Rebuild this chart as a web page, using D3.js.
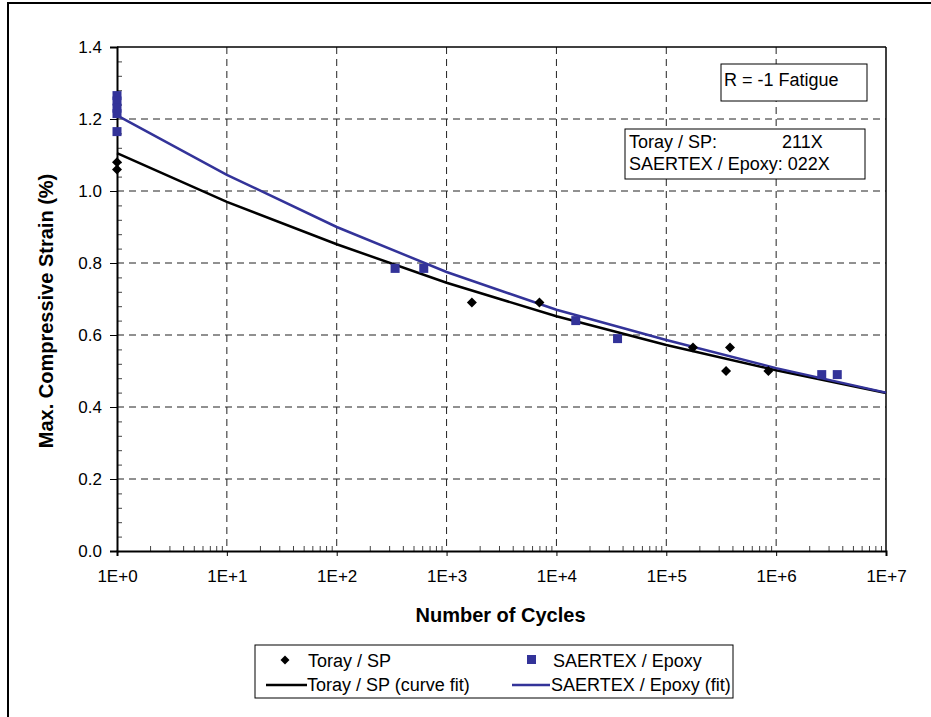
<!DOCTYPE html>
<html>
<head>
<meta charset="utf-8">
<script src="https://cdn.jsdelivr.net/npm/d3@7"></script>
<style>
  body { margin: 0; background: #fff; }
  svg text { font-family: "Liberation Sans", Arial, sans-serif; }
</style>
</head>
<body>
<div id="chart"></div>
<script>
// data
const torayN = [1, 1, 1700, 7000, 175000, 350000, 380000, 850000];
const torayStrain = [1.08, 1.06, 0.69, 0.69, 0.565, 0.50, 0.565, 0.50];

const saertexN = [1, 1, 1, 1, 1, 340, 620, 15000, 36000, 2600000, 3600000];
const saertexStrain = [1.265, 1.25, 1.23, 1.215, 1.165, 0.785, 0.785, 0.64, 0.59, 0.49, 0.49];

const fitN = [1, 1e1, 1e2, 1e3, 1e4, 1e5, 1e6, 1e7];
const torayFit = [1.105, 0.970, 0.852, 0.745, 0.652, 0.572, 0.502, 0.439];
const saertexFit = [1.210, 1.045, 0.900, 0.775, 0.670, 0.586, 0.508, 0.440];

const xTicks = [1, 1e1, 1e2, 1e3, 1e4, 1e5, 1e6, 1e7];
const yTicks = [0, 0.2, 0.4, 0.6, 0.8, 1.0, 1.2, 1.4];

const width = 931;
const height = 717;
const margin = { top: 47, bottom: 166, left: 117, right: 45 };
const blue = "#333399";

const svg = d3.select("div#chart")
  .append("svg")
  .attr("width", width)
  .attr("height", height);

// outer frame (left and top only)
svg.append("line").attr("x1", 8).attr("x2", 8).attr("y1", 2).attr("y2", height)
  .attr("stroke", "#000").attr("stroke-width", 2);
svg.append("line").attr("x1", 7).attr("x2", width).attr("y1", 3).attr("y2", 3)
  .attr("stroke", "#000").attr("stroke-width", 2);

const innerW = width - margin.left - margin.right;
const innerH = height - margin.top - margin.bottom;

const x = d3.scaleLog().domain([1, 1e7]).range([0, innerW]);
const y = d3.scaleLinear().domain([0, 1.4]).range([innerH, 0]);

const g = svg.append("g")
  .attr("transform", `translate(${margin.left},${margin.top})`);

// grid
g.append("g").selectAll("line.hgrid")
  .data(yTicks.filter(d => d > 0 && d < 1.4))
  .join("line")
  .attr("x1", 0).attr("x2", innerW)
  .attr("y1", d => y(d)).attr("y2", d => y(d))
  .attr("stroke", "#222").attr("stroke-dasharray", "7,5");

g.append("g").selectAll("line.vgrid")
  .data(xTicks.filter(d => d > 1 && d < 1e7))
  .join("line")
  .attr("x1", d => x(d)).attr("x2", d => x(d))
  .attr("y1", 0).attr("y2", innerH)
  .attr("stroke", "#222").attr("stroke-dasharray", "7,5");

// top and right frame
g.append("line").attr("x1", 0).attr("x2", innerW).attr("y1", 0).attr("y2", 0)
  .attr("stroke", "#000").attr("stroke-width", 1.5);
g.append("line").attr("x1", innerW).attr("x2", innerW).attr("y1", 0).attr("y2", innerH)
  .attr("stroke", "#000").attr("stroke-width", 1.5);

// minor ticks
const xMinor = [];
for (let e = 0; e < 7; e++) for (let k = 2; k <= 9; k++) xMinor.push(k * Math.pow(10, e));
const yMinor = d3.range(0, 35).map(i => i * 0.04).filter((d, i) => i % 5 !== 0);

g.append("g")
  .attr("transform", `translate(0,${innerH})`)
  .call(d3.axisTop(x).tickValues(xMinor).tickSize(5).tickFormat(""))
  .call(s => s.select(".domain").remove())
  .call(s => s.selectAll("line").attr("stroke", "#444"));

g.append("g")
  .call(d3.axisRight(y).tickValues(yMinor).tickSize(5).tickFormat(""))
  .call(s => s.select(".domain").remove())
  .call(s => s.selectAll("line").attr("stroke", "#444"));

// axes
const xAxisGroup = g.append("g")
  .attr("transform", `translate(0,${innerH})`)
  .call(d3.axisBottom(x).tickValues(xTicks).tickSize(5).tickPadding(14)
    .tickFormat(d => "1E+" + Math.round(Math.log10(d))));
xAxisGroup.select(".domain").attr("stroke-width", 2);
xAxisGroup.selectAll("text").attr("font-size", 17).attr("fill", "#000");

const yAxisGroup = g.append("g")
  .call(d3.axisLeft(y).tickValues(yTicks).tickSize(7).tickPadding(8).tickFormat(d3.format(".1f")));
yAxisGroup.select(".domain").attr("stroke-width", 2);
yAxisGroup.selectAll("text").attr("font-size", 17).attr("fill", "#000");

// fit lines
const line = d3.line().x(d => x(d[0])).y(d => y(d[1]));
g.append("path")
  .datum(fitN.map((n, i) => [n, torayFit[i]]))
  .attr("d", line).attr("fill", "none").attr("stroke", "#000").attr("stroke-width", 2.5);
g.append("path")
  .datum(fitN.map((n, i) => [n, saertexFit[i]]))
  .attr("d", line).attr("fill", "none").attr("stroke", blue).attr("stroke-width", 2.5);

// points
const diamond = d3.symbol().type(d3.symbolSquare).size(50);
g.append("g").selectAll("path")
  .data(torayN.map((n, i) => [n, torayStrain[i]]))
  .join("path")
  .attr("d", diamond)
  .attr("transform", d => `translate(${x(d[0])},${y(d[1])}) rotate(45)`)
  .attr("fill", "#000");

g.append("g").selectAll("rect")
  .data(saertexN.map((n, i) => [n, saertexStrain[i]]))
  .join("rect")
  .attr("x", d => x(d[0]) - 4.5).attr("y", d => y(d[1]) - 4.5)
  .attr("width", 9).attr("height", 9)
  .attr("fill", blue);

// axis titles
svg.append("text")
  .attr("x", margin.left + innerW / 2 - 1).attr("y", 622)
  .attr("text-anchor", "middle").attr("font-size", 20).attr("font-weight", "bold")
  .text("Number of Cycles");
svg.append("text")
  .attr("transform", `translate(53,${margin.top + innerH / 2 + 12}) rotate(-90)`)
  .attr("text-anchor", "middle").attr("font-size", 20).attr("font-weight", "bold")
  .text("Max. Compressive Strain (%)");

// annotation boxes
svg.append("rect").attr("x", 721).attr("y", 64).attr("width", 146).attr("height", 37)
  .attr("fill", "#fff").attr("stroke", "#000");
svg.append("text").attr("x", 724).attr("y", 86).attr("font-size", 18).text("R = -1 Fatigue");

svg.append("rect").attr("x", 625).attr("y", 129).attr("width", 240).attr("height", 50)
  .attr("fill", "#fff").attr("stroke", "#000");
svg.append("text").attr("x", 629).attr("y", 148).attr("font-size", 18).text("Toray / SP:");
svg.append("text").attr("x", 782).attr("y", 148).attr("font-size", 18).text("211X");
svg.append("text").attr("x", 629).attr("y", 170).attr("font-size", 18).text("SAERTEX / Epoxy: 022X");

// legend
const legend = svg.append("g");
legend.append("rect").attr("x", 255).attr("y", 645).attr("width", 478).attr("height", 53)
  .attr("fill", "#fff").attr("stroke", "#000");
legend.append("path").attr("d", d3.symbol().type(d3.symbolSquare).size(40))
  .attr("transform", "translate(285,660) rotate(45)").attr("fill", "#000");
legend.append("text").attr("x", 308).attr("y", 667).attr("font-size", 18).text("Toray / SP");
legend.append("rect").attr("x", 527).attr("y", 655).attr("width", 9).attr("height", 9).attr("fill", blue);
legend.append("text").attr("x", 553).attr("y", 667).attr("font-size", 18).text("SAERTEX / Epoxy");
legend.append("line").attr("x1", 266).attr("x2", 307).attr("y1", 685).attr("y2", 685)
  .attr("stroke", "#000").attr("stroke-width", 2.5);
legend.append("text").attr("x", 307).attr("y", 691).attr("font-size", 18).text("Toray / SP (curve fit)");
legend.append("line").attr("x1", 512).attr("x2", 550).attr("y1", 685).attr("y2", 685)
  .attr("stroke", blue).attr("stroke-width", 2.5);
legend.append("text").attr("x", 551).attr("y", 691).attr("font-size", 18).text("SAERTEX / Epoxy (fit)");
</script>
</body>
</html>
